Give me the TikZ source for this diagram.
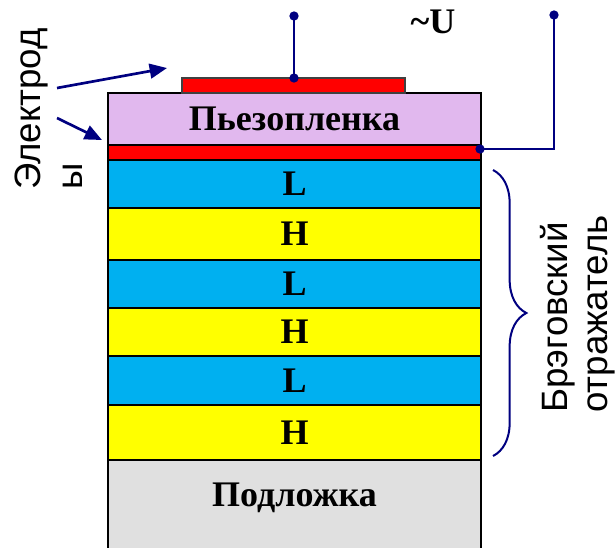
\documentclass[tikz,border=0pt]{standalone}
\usepackage{fontspec}
\setmainfont{Liberation Serif}
\newfontfamily\labelsans{Liberation Sans}
\usetikzlibrary{arrows.meta,decorations.pathreplacing}
\definecolor{wire}{HTML}{000080}
\definecolor{electrode}{HTML}{FF0000}
\definecolor{piezo}{HTML}{E1B8EE}
\definecolor{lowz}{HTML}{00B0F0}
\definecolor{highz}{HTML}{FFFF00}
\definecolor{substrate}{HTML}{E0E0E0}
\begin{document}
\begin{tikzpicture}[x=0.75pt,y=-0.75pt,
  layerbox/.style={draw=black,line width=1.5pt,inner sep=0pt,minimum width={373*0.75pt},
    font=\bfseries\fontsize{27}{30}\selectfont},
  lbl/.style={font=\bfseries\fontsize{27}{30}\selectfont,inner sep=0pt},
  side/.style={font=\labelsans\fontsize{27.5}{32}\selectfont,rotate=90,anchor=base west,inner sep=0pt},
  wireline/.style={draw=wire,line width=2pt},
  pointer/.style={draw=wire,line width=2pt,-{Triangle[length=13pt,width=11pt]}},
  dot/.style={fill=wire,circle,inner sep=0pt,minimum size=7pt}]

\path[use as bounding box] (0,0) rectangle (616,547);

% substrate and Bragg reflector stack
\node[layerbox,fill=substrate,minimum height={90*0.75pt}] (sub) at (294.5,505) {};
\node[lbl] (sublabel) at (294.5,498) {Подложка};
\node[layerbox,fill=highz,minimum height={55*0.75pt}] (h3) at (294.5,432.5) {H};
\node[layerbox,fill=lowz,minimum height={49*0.75pt}] (l3) at (294.5,380.5) {L};
\node[layerbox,fill=highz,minimum height={48*0.75pt}] (h2) at (294.5,332) {H};
\node[layerbox,fill=lowz,minimum height={48*0.75pt}] (l2) at (294.5,284) {L};
\node[layerbox,fill=highz,minimum height={52*0.75pt}] (h1) at (294.5,234) {H};
\node[layerbox,fill=lowz,minimum height={48*0.75pt}] (l1) at (294.5,184) {L};

% electrodes and piezo film
\node[layerbox,fill=electrode,minimum height={15*0.75pt}] (bottomel) at (294.5,152.5) {};
\node[layerbox,fill=piezo,minimum height={52*0.75pt}] (film) at (294.5,119) {Пьезопленка};
\node[draw=black!75,line width=1.2pt,fill=electrode,inner sep=0pt,
  minimum width={223*0.75pt},minimum height={15*0.75pt}] (topel) at (293.5,85.5) {};

% voltage leads
\node[dot] (ta) at (294,16) {};
\node[dot] (tb) at (294,78) {};
\draw[wireline] (ta.center) -- (tb.center);
\node[dot] (ra) at (554,15) {};
\node[dot] (rb) at (480,149) {};
\draw[wireline] (ra.center) |- (rb.center);
\node[lbl] (volt) at (433,22) {\textasciitilde U};

% electrode pointers
\coordinate (p1s) at (57,88);
\coordinate (p1e) at (167,68);
\coordinate (p2s) at (57,118);
\coordinate (p2e) at (102,140);
\draw[pointer] (p1s) -- (p1e);
\draw[pointer] (p2s) -- (p2e);
\node[side] (el1) at (40,190) {Электрод};
\node[side] (el2) at (82,190) {ы};

% Bragg reflector brace
\coordinate (bt) at (493,170);
\coordinate (bb) at (493,456);
\draw[draw=wire,line width=1.5pt,decorate,decoration={brace,amplitude=25pt}] (bt) -- (bb);
\node[side] (br1) at (567,413) {Брэговский};
\node[side] (br2) at (607,413) {отражатель};
\end{tikzpicture}
\end{document}
